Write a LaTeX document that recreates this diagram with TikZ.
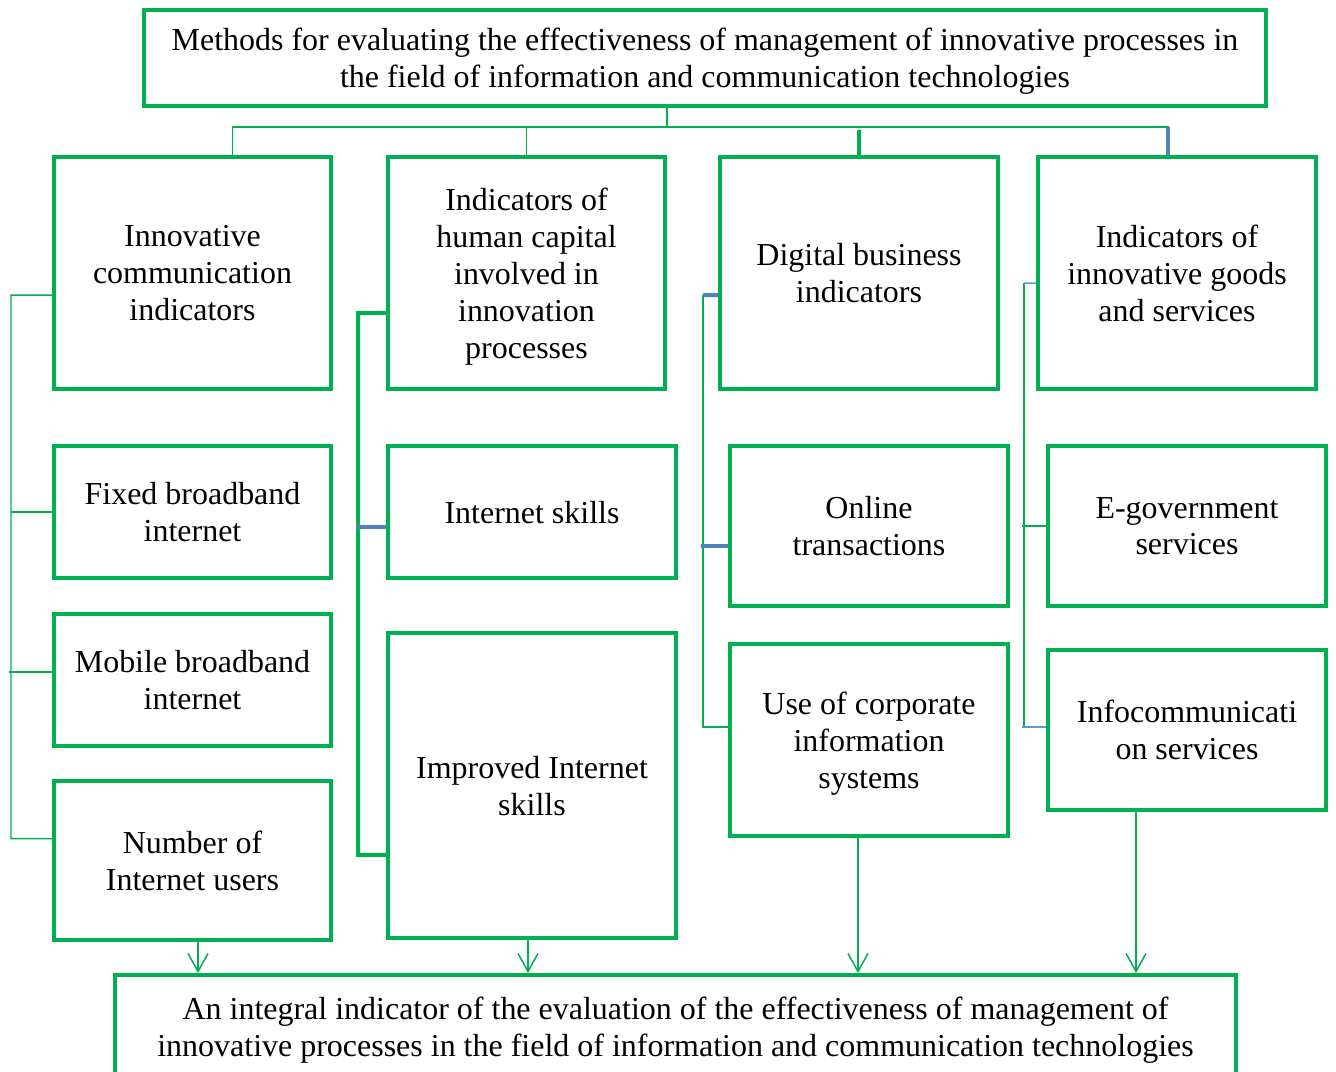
\documentclass[tikz,border=0pt]{standalone}
\usepackage{fontspec}
\setmainfont{Liberation Serif}
\usetikzlibrary{arrows.meta}
\definecolor{boxgreen}{HTML}{00B050}
\definecolor{linkblue}{HTML}{4F81BD}
\definecolor{paleblue}{HTML}{5B9BD5}
\tikzset{%
  block/.style={%
    rectangle,%
    draw=boxgreen,%
    line width=0.08cm,%
    align=center,%
    inner sep=0pt,%
    text depth=0pt,%
    font=\fontsize{18.2}{21}\selectfont},%
  link/.style={draw=boxgreen, line width=0.03cm},%
  thicklink/.style={draw=boxgreen, line width=0.08cm},%
  bluelink/.style={draw=linkblue, line width=0.08cm},%
  thinblue/.style={draw=paleblue, line width=0.03cm},%
  result/.style={%
    link,%
    -{Straight Barb[length=0.36cm,width=0.4cm]}}
}
\begin{document}
\begin{tikzpicture}[x=0.02cm,y=-0.02cm]
  \clip (0,0) rectangle (1336,1072);
  \node [block, minimum width=22.44cm, minimum height=1.92cm] (top) at (705,58) {%
    Methods for evaluating the effectiveness of management of innovative processes in\\%
    the field of information and communication technologies};
  \node [block, minimum width=5.54cm, minimum height=4.64cm] (inno) at (192.5,273)
    {Innovative\\communication\\indicators};
  \node [block, minimum width=5.54cm, minimum height=4.64cm] (human) at (526.5,273)
    {Indicators of\\human capital\\involved in\\innovation\\processes};
  \node [block, minimum width=5.56cm, minimum height=4.64cm] (digital) at (859,273)
    {Digital business\\indicators};
  \node [block, minimum width=5.56cm, minimum height=4.64cm] (goods) at (1177,273)
    {Indicators of\\innovative goods\\and services};
  \node [block, minimum width=5.54cm, minimum height=2.64cm] (fixed) at (192.5,512)
    {Fixed broadband\\internet};
  \node [block, minimum width=5.54cm, minimum height=2.64cm] (mobile) at (192.5,680)
    {Mobile broadband\\internet};
  \node [block, minimum width=5.54cm, minimum height=3.18cm] (users) at (192.5,860.5)
    {Number of\\Internet users};
  \node [block, minimum width=5.76cm, minimum height=2.64cm] (skills) at (532,512)
    {Internet skills};
  \node [block, minimum width=5.76cm, minimum height=6.1cm] (improved) at (532,785.5)
    {Improved Internet\\skills};
  \node [block, minimum width=5.56cm, minimum height=3.2cm] (online) at (869,526)
    {Online\\transactions};
  \node [block, minimum width=5.56cm, minimum height=3.84cm] (corporate) at (869,740)
    {Use of corporate\\information\\systems};
  \node [block, minimum width=5.56cm, minimum height=3.2cm] (egov) at (1187,526)
    {E-government\\services};
  \node [block, minimum width=5.56cm, minimum height=3.2cm] (infocom) at (1187,730)
    {Infocommunicati\\on services};
  \node [block, minimum width=22.42cm, minimum height=2.06cm] (integral) at (675.5,1026.5) {%
    An integral indicator of the evaluation of the effectiveness of management of\\%
    innovative processes in the field of information and communication technologies};

  \coordinate (hub) at (667,127);
  \draw [link] (top.south -| hub) -- (hub);
  \draw [link] ([xshift=0.8cm]inno.north) |- (hub) -| ([xshift=-0.18cm]goods.north);
  \draw [link] (human.north) -- (human.north |- hub);
  \draw [thicklink] (digital.north) -- ++(0,0.5cm);
  \draw [bluelink] ([xshift=-0.18cm]goods.north) -- ++(0,0.56cm);

  \coordinate (lb) at (11,295);
  \draw [link] ([yshift=-0.44cm]inno.west) -- (lb) |- ([yshift=0.44cm]users.west);
  \draw [link] (fixed.west) -- (fixed.west -| lb);
  \draw [link] ([yshift=0.16cm]mobile.west) -- ++(-0.86cm,0);

  \coordinate (hb) at (358,313);
  \draw [thicklink] ([yshift=-0.8cm]human.west) -- (hb) |- ([yshift=-1.39cm]improved.west);
  \draw [bluelink] ([yshift=-0.3cm]skills.west) -- ++(-0.6cm,0);

  \coordinate (db) at (703,295);
  \draw [link] (db) |- ([yshift=0.26cm]corporate.west);
  \draw [bluelink] ([yshift=-0.44cm]digital.west) -- (db);
  \draw [bluelink] ([yshift=-0.4cm]online.west) -- ++(-0.54cm,0);

  \coordinate (gb) at (1024,283);
  \draw [link] (gb) |- ([yshift=0.06cm]infocom.west);
  \draw [thinblue] ([yshift=-0.2cm]goods.west) -- (gb);
  \draw [link] (egov.west) -- ++(-0.48cm,0);
  \draw [thinblue] ([yshift=0.06cm]infocom.west) -- ++(-0.48cm,0);

  \draw [result] ([xshift=0.11cm]users.south) -- ([xshift=0.11cm]users.south |- integral.north);
  \draw [result] ([xshift=-0.08cm]improved.south) -- ([xshift=-0.08cm]improved.south |- integral.north);
  \draw [result] ([xshift=-0.22cm]corporate.south) -- ([xshift=-0.22cm]corporate.south |- integral.north);
  \draw [result] ([xshift=-1.02cm]infocom.south) -- ([xshift=-1.02cm]infocom.south |- integral.north);
\end{tikzpicture}
\end{document}
